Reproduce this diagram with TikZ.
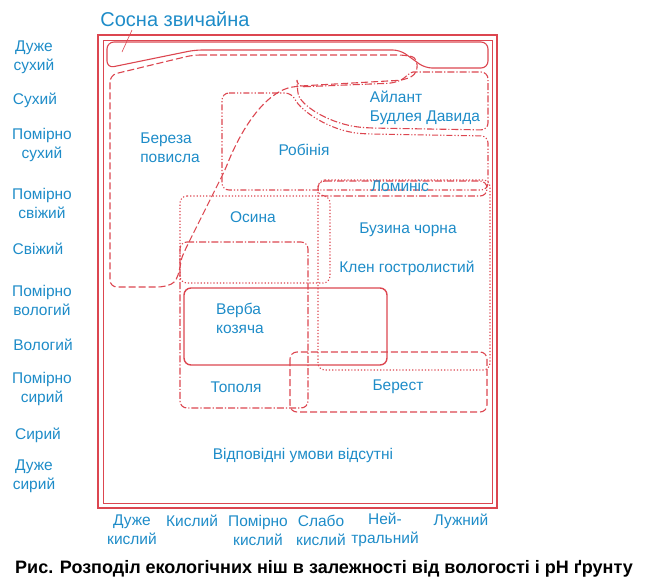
\documentclass[tikz,border=0pt]{standalone}
\usepackage{fontspec}
\setmainfont{Liberation Sans}
\usepackage{tikz}
\definecolor{lred}{RGB}{220,70,80}
\definecolor{lblue}{RGB}{30,140,200}
\tikzset{
  zone/.style={lred,line width=1.1pt,rounded corners=7pt},
  dsh/.style={zone,dash pattern=on 7pt off 3pt},
  dshdot/.style={zone,dash pattern=on 7pt off 2pt on 1.2pt off 2pt},
  dshdd/.style={zone,dash pattern=on 6pt off 2pt on 1.2pt off 2pt on 1.2pt off 2pt},
  dots/.style={zone,dash pattern=on 1.2pt off 2pt},
  lab/.style={lblue,font=\fontsize{15.5}{19}\selectfont,align=left,inner sep=1pt},
  axl/.style={lab,align=center}
}
\begin{document}
\begin{tikzpicture}[x=1pt,y=-1pt]
\useasboundingbox (0,0) rectangle (646,587);

% ramka
\draw[lred,line width=1.1pt] (98,35) rectangle (497,508);
\draw[lred,line width=0.8pt] (103,40) rectangle (492,503);

% sosna
\draw[zone] (107,42) -- (488,42) -- (488,68) -- (425,68) -- (400,50) -- (195,50) -- (107,68) -- cycle;
\node[lab,font=\fontsize{20}{22}\selectfont] (sosna) at (175,19) {Сосна звичайна};
\coordinate (sosnap) at (122,52);
\coordinate (sosnat) at (132,30);
\draw[lred,line width=0.6pt] (sosnat) -- (sosnap);

% bereza
\draw[dsh] (193,55) -- (405,55) .. controls (418,58) and (420,72) .. (405,80)
  -- (300,86) .. controls (270,90) and (245,120) .. (225,170)
  -- (185,250) .. controls (180,262) and (180,280) .. (165,287)
  -- (110,287) -- (110,75) -- cycle;

% ajlant
\draw[dshdot] (297,87) -- (395,83) .. controls (405,78) and (410,72) .. (420,72)
  -- (488,72) -- (488,130) -- (370,128) .. controls (330,125) and (300,105) .. cycle;

% robinija
\draw[dshdd] (222,93) -- (292,93) .. controls (300,110) and (330,132) .. (370,134)
  -- (488,136) -- (488,190) -- (222,190) -- cycle;

% lominis
\draw[dshdot] (318,181) -- (487,181) -- (487,196) -- (318,196) -- cycle;
% buzina
\draw[dots] (318,180) -- (490,180) -- (490,370) -- (318,370) -- cycle;
% osyna
\draw[dots] (180,196) -- (330,196) -- (330,283) -- (180,283) -- cycle;
% topolja
\draw[dshdot] (180,242) -- (308,242) -- (308,408) -- (180,408) -- cycle;
% verba
\draw[zone,line width=1.4pt] (184,288) rectangle (387,365);
% berest
\draw[dsh] (290,352) rectangle (487,412);

% napysy
\node[lab] (bereza) at (170,148) {Береза\\повисла};
\node[lab] (robinija) at (304,150) {Робінія};
\node[lab] (ajlant) at (425,108) {Айлант\\Будлея Давида};
\node[lab] (lominis) at (400,186) {Ломиніс};
\node[lab] (osyna) at (253,217) {Осина};
\node[lab] (buzina) at (408,230) {Бузина чорна};
\node[lab] (klen) at (407,268) {Клен гостролистий};
\node[lab] (verba) at (240,318) {Верба\\козяча};
\node[lab] (topolja) at (236,387) {Тополя};
\node[lab] (berest) at (398,387) {Берест};
\node[lab] (nema) at (303,455) {Відповідні умови відсутні};

% vologist
\node[axl] (v1) at (34,57) {Дуже\\сухий};
\node[axl] (v2) at (35,100) {Сухий};
\node[axl] (v3) at (42,145) {Помірно\\сухий};
\node[axl] (v4) at (42,203) {Помірно\\свіжий};
\node[axl] (v5) at (38,249) {Свіжий};
\node[axl] (v6) at (42,300) {Помірно\\вологий};
\node[axl] (v7) at (43,345) {Вологий};
\node[axl] (v8) at (42,389) {Помірно\\сирий};
\node[axl] (v9) at (38,435) {Сирий};
\node[axl] (v10) at (34,476) {Дуже\\сирий};

% kyslotnist
\node[axl] (k1) at (132,530) {Дуже\\кислий};
\node[axl] (k2) at (192,521) {Кислий};
\node[axl] (k3) at (258,530) {Помірно\\кислий};
\node[axl] (k4) at (321,530) {Слабо\\кислий};
\node[axl] (k5) at (385,530) {Ней-\\тральний};
\node[axl] (k6) at (461,521) {Лужний};

\node[font=\bfseries\fontsize{18}{20}\selectfont] (cap) at (324,569)
  {Рис. Розподіл екологічних ніш в залежності від вологості і рН ґрунту};
\end{tikzpicture}
\end{document}
